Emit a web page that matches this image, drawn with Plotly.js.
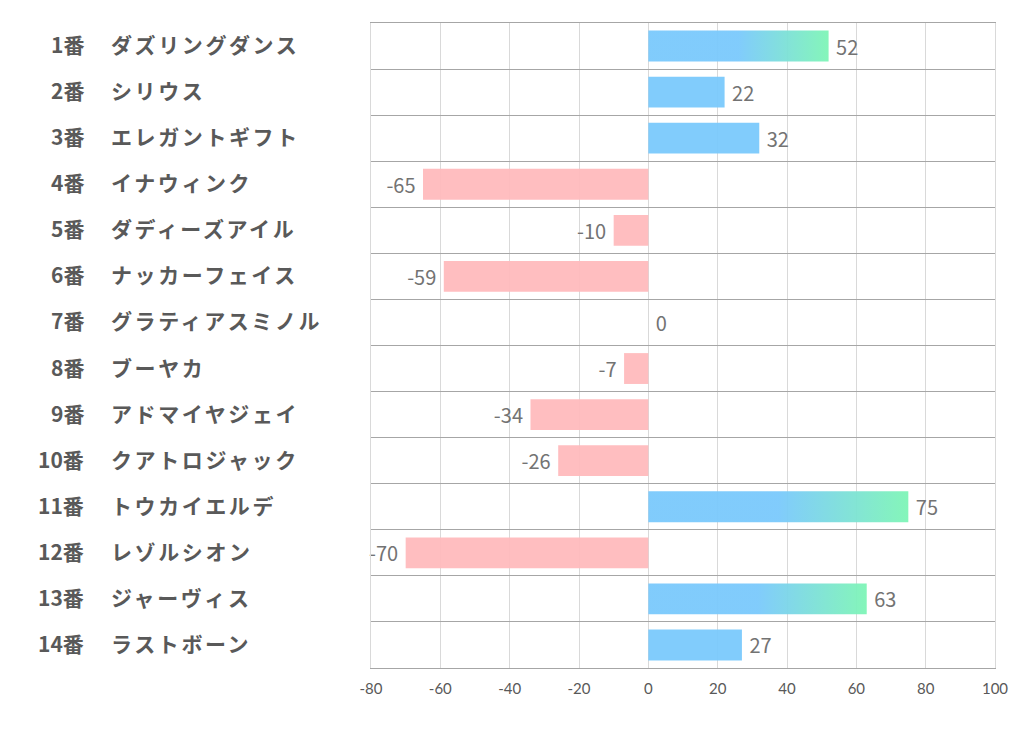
<!DOCTYPE html>
<html>
<head>
<meta charset="utf-8">
<script src="https://cdn.plot.ly/plotly-3.0.1.min.js"></script>
<style>html,body{margin:0;padding:0;background:#fff;}#chart{width:1022px;height:730px;}</style>
</head>
<body>
<div id="chart"></div>
<script>
const numbers = ["1番","2番","3番","4番","5番","6番","7番","8番","9番","10番","11番","12番","13番","14番"];
const horses = ["ダズリングダンス","シリウス","エレガントギフト","イナウィンク","ダディーズアイル","ナッカーフェイス","グラティアスミノル","ブーヤカ","アドマイヤジェイ","クアトロジャック","トウカイエルデ","レゾルシオン","ジャーヴィス","ラストボーン"];
const values = [52, 22, 32, -65, -10, -59, 0, -7, -34, -26, 75, -70, 63, 27];
const xTicks = [-80, -60, -40, -20, 0, 20, 40, 60, 80, 100];

const BLUE = "#7ac9fc", GREEN = "#7ef5b6", PINK = "#ffbbbd";
const colors = values.map(v => v >= 0 ? BLUE : PINK);
const labels = values.map(v => v >= 0 ? "\u00a0" + v : v + "\u00a0");

const trace = {
  type: "bar", orientation: "h",
  x: values, y: horses,
  width: 0.67,
  marker: {color: colors, opacity: 0.95, line: {width: 0}},
  text: labels, textposition: "outside", constraintext: "none", cliponaxis: false,
  textfont: {family: "Noto Sans CJK JP, Noto Sans", size: 20, color: "#737373"},
  hoverinfo: "none"
};

const LEFT = 371, RIGHT = 995, W = RIGHT - LEFT;
const annotations = [];
horses.forEach((h, i) => {
  annotations.push({xref: "paper", yref: "y", x: (86 - LEFT) / W, y: h, xanchor: "right", yanchor: "middle",
    yshift: 2, text: "<b>" + numbers[i] + "</b>", showarrow: false,
    font: {family: "Noto Sans CJK JP", size: 21, color: "#595959"}});
  annotations.push({xref: "paper", yref: "y", x: (109 - LEFT) / W, y: h, xanchor: "left", yanchor: "middle",
    yshift: 2, text: "<span style=\"letter-spacing:2.6px\"><b>" + h + "</b></span>", showarrow: false,
    font: {family: "Noto Sans CJK JP", size: 21, color: "#595959"}});
});

const layout = {
  width: 1022, height: 730,
  margin: {l: LEFT, r: 1022 - RIGHT, t: 23, b: 62},
  paper_bgcolor: "#fff", plot_bgcolor: "#fff",
  showlegend: false,
  xaxis: {range: [-80, 100], tickvals: xTicks, ticktext: xTicks.map(String),
    showgrid: true, gridcolor: "#d9d9d9", gridwidth: 1, zeroline: false,
    showline: true, mirror: true, linecolor: "#a6a6a6", linewidth: 1,
    ticks: "outside", ticklen: 7, tickcolor: "rgba(0,0,0,0)",
    tickfont: {family: "Lato, Noto Sans", size: 15, color: "#595959"}, fixedrange: true},
  yaxis: {type: "category", categoryorder: "array", categoryarray: horses,
    range: [horses.length - 0.5, -0.5], tickson: "boundaries",
    showgrid: true, gridcolor: "#a6a6a6", gridwidth: 1, showticklabels: false,
    ticks: "", zeroline: false, showline: true, mirror: true, linecolor: "#d9d9d9", linewidth: 1,
    fixedrange: true},
  annotations: annotations,
  bargap: 0.33
};

Plotly.newPlot("chart", [trace], layout, {displayModeBar: false, staticPlot: true}).then(gd => {
  const svg = gd.querySelector("svg.main-svg");
  let defs = svg.querySelector("defs");
  const ns = "http://www.w3.org/2000/svg";
  const grad = document.createElementNS(ns, "linearGradient");
  grad.setAttribute("id", "barGrad");
  grad.setAttribute("x1", "0"); grad.setAttribute("x2", "1");
  grad.setAttribute("y1", "0"); grad.setAttribute("y2", "0");
  [[0, BLUE], [0.5, BLUE], [1, GREEN]].forEach(([o, c]) => {
    const s = document.createElementNS(ns, "stop");
    s.setAttribute("offset", o); s.setAttribute("stop-color", c);
    grad.appendChild(s);
  });
  defs.appendChild(grad);
  const paths = gd.querySelectorAll(".barlayer .point path");
  paths.forEach((p, i) => {
    if (values[i] >= 50) p.style.fill = "url(#barGrad)";
  });
});
</script>
</body>
</html>
